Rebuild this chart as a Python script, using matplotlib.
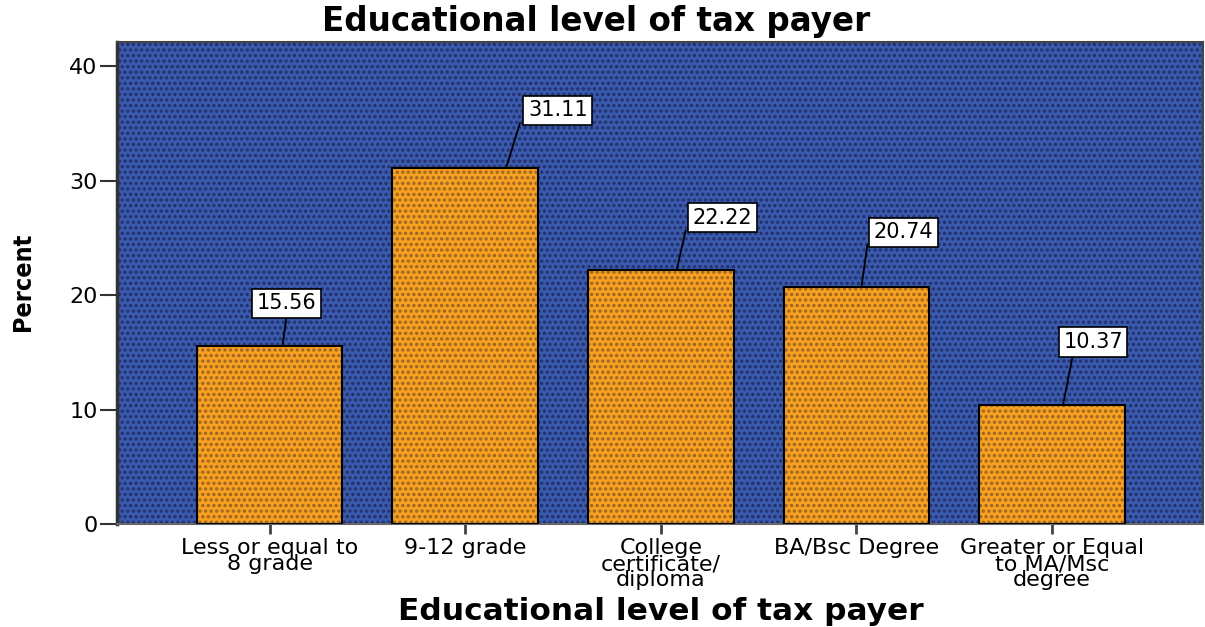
import numpy as np
import matplotlib.pyplot as plt
from matplotlib.patches import Rectangle

# data
categories = ["Less or equal to\n8 grade", "9-12 grade", "College\ncertificate/\ndiploma",
              "BA/Bsc Degree", "Greater or Equal\nto MA/Msc\ndegree"]
percent = [15.56, 31.11, 22.22, 20.74, 10.37]

# label box placement (style only, in axis units relative to each bar)
box_dx = [0.087, 0.474, 0.316, 0.24, 0.21]
box_gap = [2.6, 3.9, 3.4, 3.6, 4.4]
line_x0 = [0.066, 0.209, 0.082, 0.026, 0.056]
line_x1 = [0.087, 0.28, 0.127, 0.056, 0.107]

blue = '#3a5aae'
blue_dot = '#22306a'
orange = '#f8a020'
orange_dot = '#9a6424'

plt.rcParams['hatch.linewidth'] = 1.6

fig = plt.figure(figsize=(12.05, 6.27), dpi=100)
ax = fig.add_axes([0.0971, 0.1643, 0.9009, 0.7687])

# dotted background
ax.set_facecolor(blue)
ax.add_patch(Rectangle((0, 0), 1, 1, transform=ax.transAxes, facecolor='none',
                       edgecolor=blue_dot, hatch='...', linewidth=0, zorder=0))

x = np.arange(len(categories))
ax.bar(x, percent, width=0.745, color=orange, edgecolor=orange_dot, hatch='...', linewidth=0, zorder=2)
ax.bar(x, percent, width=0.745, color='none', edgecolor='black', linewidth=1.5, zorder=3)

for i in range(len(percent)):
    v = percent[i]
    yb = v + box_gap[i]
    ax.plot([x[i] + line_x0[i], x[i] + line_x1[i]], [v, yb], color='black', lw=1.3, zorder=4)
    ax.text(x[i] + box_dx[i], yb + 1.13, "%.2f" % v, ha='center', va='center', fontsize=15,
            bbox=dict(boxstyle='square,pad=0.22', facecolor='white', edgecolor='black', lw=1.2),
            zorder=5)

ax.set_xlim(-0.78, 4.77)
ax.set_ylim(0, 42.1)
ax.set_yticks([0, 10, 20, 30, 40])
ax.set_xticks(x)
ax.set_xticklabels(categories, fontsize=16, linespacing=0.76)
ax.tick_params(axis='y', length=12, width=1.5, color='#333333', labelsize=16, pad=2)
ax.tick_params(axis='x', length=7, width=2, color='#444444', pad=3)

ax.spines['left'].set_linewidth(2.5)
ax.spines['left'].set_color('#333333')
ax.spines['top'].set_linewidth(1.5)
ax.spines['top'].set_color('#444444')
ax.spines['right'].set_linewidth(1.5)
ax.spines['right'].set_color('#444444')
ax.spines['bottom'].set_linewidth(1.5)
ax.spines['bottom'].set_color('#666666')

fig.text(0.4946, 1 - 22 / 627, "Educational level of tax payer", ha='center', va='center',
         fontsize=23.5, fontweight='bold')
fig.text(0.548, 1 - 612 / 627, "Educational level of tax payer", ha='center', va='center',
         fontsize=22.5, fontweight='bold')
fig.text(0.019, 1 - 282 / 627, "Percent", rotation=90, ha='center', va='center',
         fontsize=18, fontweight='bold', fontstretch='condensed',
         family=['DejaVu Sans'])

fig.savefig('out.png', dpi=100)
